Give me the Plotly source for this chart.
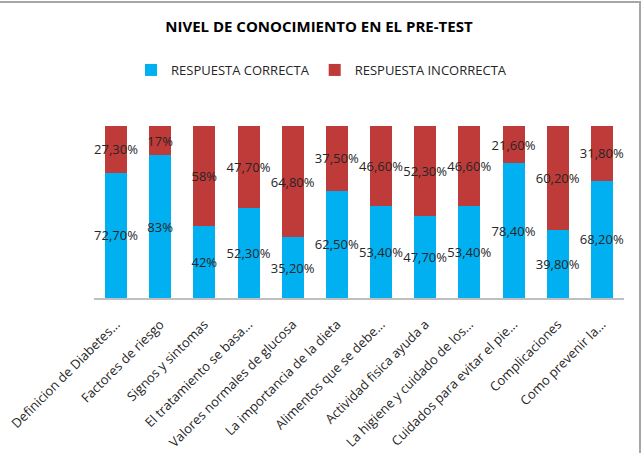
import plotly.graph_objects as go

categories = [
    "Definicion de Diabetes...",
    "Factores de riesgo",
    "Signos y sintomas",
    "El tratamiento se basa...",
    "Valores normales de glucosa",
    "La importancia de la dieta",
    "Alimentos que se debe...",
    "Actividad fisica ayuda a",
    "La higiene y cuidado de los...",
    "Cuidados para evitar el pie...",
    "Complicaciones",
    "Como prevenir la...",
]
correcta = [72.7, 83, 42, 52.3, 35.2, 62.5, 53.4, 47.7, 53.4, 78.4, 39.8, 68.2]
incorrecta = [27.3, 17, 58, 47.7, 64.8, 37.5, 46.6, 52.3, 46.6, 21.6, 60.2, 31.8]
correcta_labels = ["72,70%", "83%", "42%", "52,30%", "35,20%", "62,50%", "53,40%",
                   "47,70%", "53,40%", "78,40%", "39,80%", "68,20%"]
incorrecta_labels = ["27,30%", "17%", "58%", "47,70%", "64,80%", "37,50%", "46,60%",
                     "52,30%", "46,60%", "21,60%", "60,20%", "31,80%"]

FONT = "Open Sans"
TXT = "#262626"

fig = go.Figure()
fig.add_trace(go.Bar(
    x=categories, y=correcta, name="RESPUESTA CORRECTA",
    marker=dict(color="#00B0F0", line=dict(width=0)),
    text=correcta_labels, textposition="inside", insidetextanchor="middle",
    textangle=0, constraintext="none",
    insidetextfont=dict(family=FONT, size=13, color=TXT),
    hoverinfo="skip",
))
fig.add_trace(go.Bar(
    x=categories, y=incorrecta, name="RESPUESTA INCORRECTA",
    marker=dict(color="#BF3B39", line=dict(width=0)),
    text=incorrecta_labels, textposition="inside", insidetextanchor="middle",
    textangle=0, constraintext="none",
    insidetextfont=dict(family=FONT, size=13, color=TXT),
    hoverinfo="skip",
))

W, H = 643, 453
L, R, T, B = 94, 19, 126, 155
pw, ph = W - L - R, H - T - B

def px_x(p):
    return (p - L) / pw

def px_y(p):
    return (H - B - p) / ph

fig.update_layout(
    width=W, height=H,
    barmode="stack", bargap=0.5,
    margin=dict(l=L, r=R, t=T, b=B, pad=0, autoexpand=False),
    paper_bgcolor="white", plot_bgcolor="white",
    font=dict(family=FONT, size=13, color=TXT),
    title=dict(text="<b>NIVEL DE CONOCIMIENTO EN EL PRE-TEST</b>",
               x=0.496, xref="container", xanchor="center",
               y=1 - 27 / H, yref="container", yanchor="middle",
               font=dict(family=FONT, size=15, color="#000000")),
    legend=dict(orientation="h", xref="container", x=0.5, xanchor="center",
                yref="container", y=1 - 70 / H, yanchor="middle",
                font=dict(family=FONT, size=13, color=TXT),
                itemwidth=30, traceorder="normal"),
    xaxis=dict(showline=True, linecolor="#BFBFBF", linewidth=1.5,
               ticks="", tickangle=-45, showgrid=False, ticklabelstandoff=12,
               automargin=False,
               tickfont=dict(family=FONT, size=13, color=TXT)),
    yaxis=dict(range=[0, 100], visible=False, showgrid=False, automargin=False),
    showlegend=True,
    shapes=[
        dict(type="line", xref="paper", yref="paper",
             x0=px_x(0), x1=px_x(641), y0=px_y(2), y1=px_y(2),
             line=dict(color="#A6A6A6", width=2)),
        dict(type="line", xref="paper", yref="paper",
             x0=px_x(640), x1=px_x(640), y0=px_y(2), y1=px_y(453),
             line=dict(color="#A6A6A6", width=2)),
    ],
)

fig.write_html("out.html")
